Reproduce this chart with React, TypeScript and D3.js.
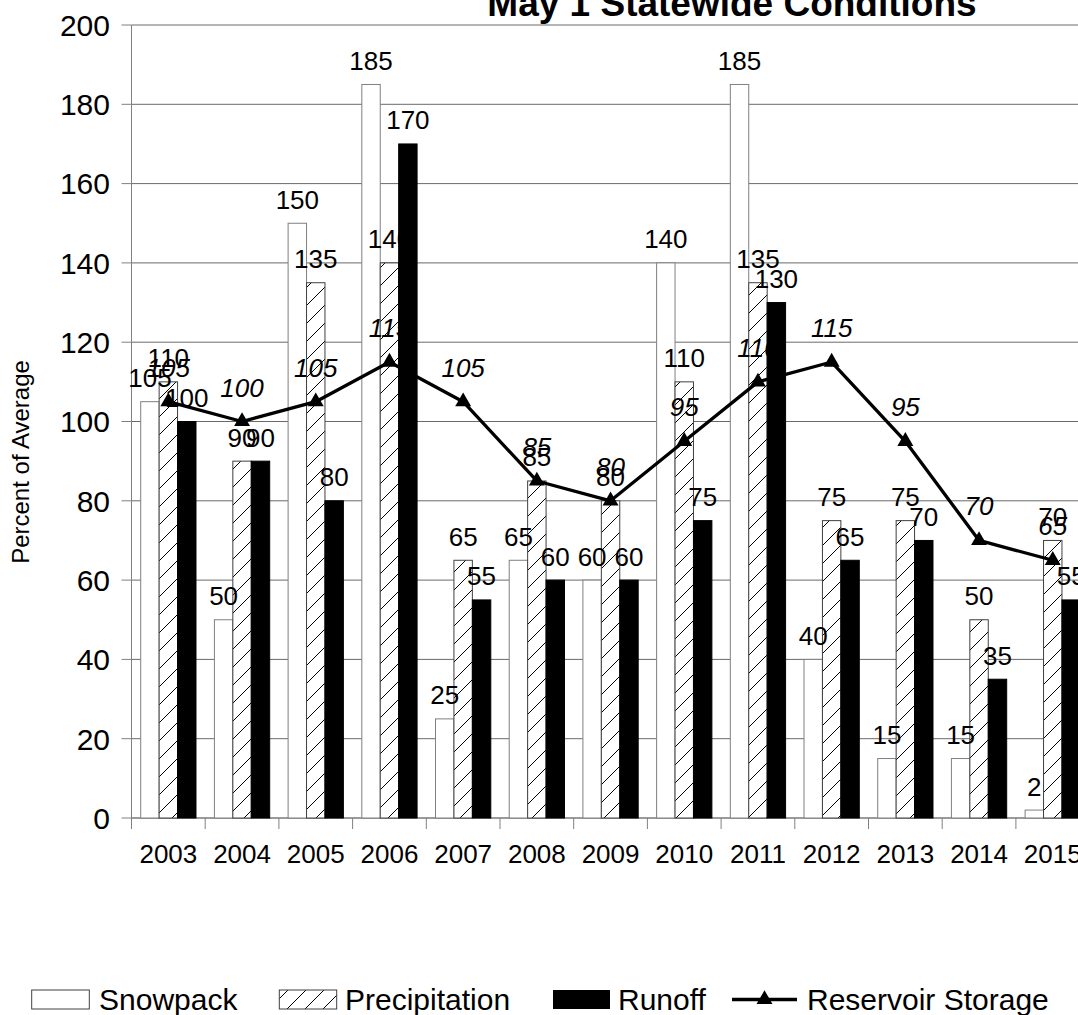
import React from "react";
import * as d3 from "d3";

const years = ["2003","2004","2005","2006","2007","2008","2009","2010","2011","2012","2013","2014","2015"];
const snowpack = [105, 50, 150, 185, 25, 65, 60, 140, 185, 40, 15, 15, 2];
const precipitation = [110, 90, 135, 140, 65, 85, 80, 110, 135, 75, 75, 50, 70];
const runoff = [100, 90, 80, 170, 55, 60, 60, 75, 130, 65, 70, 35, 55];
const reservoir = [105, 100, 105, 115, 105, 85, 80, 95, 110, 115, 95, 70, 65];
const yTicks = [0, 20, 40, 60, 80, 100, 120, 140, 160, 180, 200];
const seriesNames = ["Snowpack", "Precipitation", "Runoff", "Reservoir Storage"];
const title = "May 1 Statewide Conditions";
const yTitle = "Percent of Average";

const W = 1078;
const H = 1015;
const FONT = "'Liberation Sans', Arial, Helvetica, sans-serif";

export default function App() {
  const plotLeft = 131.5;
  const band = 73.7;
  const x0 = d3.scaleBand<string>().domain(years).range([plotLeft, plotLeft + band * years.length]).padding(0);
  const bw = x0.bandwidth();
  const x1 = d3.scaleBand<number>().domain([0, 1, 2]).range([bw * 0.125, bw * 0.875]).padding(0);
  const y = d3.scaleLinear().domain([0, 200]).range([818, 25]);
  const barW = x1.bandwidth();
  const center = (i: number) => (x0(years[i]) as number) + bw / 2;

  const lineGen = d3.line<number>().x((_, i) => center(i)).y((d) => y(d));
  const tri = d3.symbol().type(d3.symbolTriangle).size(110)();

  const barRect = (s: number, i: number, v: number, key: string) => {
    const bx = (x0(years[i]) as number) + (x1(s) as number);
    const common = { x: bx, y: y(v), width: barW, height: y(0) - y(v) };
    if (s === 0) return <rect key={key} {...common} fill="#fff" stroke="#808080" strokeWidth={1} />;
    if (s === 1) return <rect key={key} {...common} fill="url(#hatch)" stroke="#404040" strokeWidth={1} />;
    return <rect key={key} {...common} fill="#000" stroke="#000" strokeWidth={1} />;
  };
  const barLabel = (s: number, i: number, v: number, key: string) => {
    const bx = (x0(years[i]) as number) + (x1(s) as number) + barW / 2;
    return (
      <text key={key} x={bx} y={y(v) - 14.5} textAnchor="middle" fontSize={26} fill="#000">
        {v}
      </text>
    );
  };

  return (
    <svg width={W} height={H} style={{ position: "absolute", left: 0, top: 0, display: "block", background: "#fff" }} fontFamily={FONT}>
      <defs>
        <pattern id="hatch" patternUnits="userSpaceOnUse" width={18} height={18}>
          <rect width={18} height={18} fill="#fff" />
          <path d="M0,18 L18,0 M-4.5,4.5 L4.5,-4.5 M13.5,22.5 L22.5,13.5" stroke="#000" strokeWidth={1} />
        </pattern>
      </defs>
      <rect x={0} y={0} width={W} height={H} fill="#fff" />

      {/* title */}
      <text x={732} y={16} textAnchor="middle" fontSize={37} fontWeight="bold" fill="#000">
        {title}
      </text>

      {/* gridlines */}
      {yTicks.map((t) => (
        <line key={"g" + t} x1={plotLeft} x2={W} y1={y(t)} y2={y(t)} stroke="#6a6a6a" strokeWidth={1} />
      ))}

      {/* y axis */}
      <line x1={plotLeft} x2={plotLeft} y1={y(200)} y2={y(0)} stroke="#808080" strokeWidth={1} />
      {yTicks.map((t) => (
        <g key={"yt" + t}>
          <line x1={plotLeft - 10} x2={plotLeft} y1={y(t)} y2={y(t)} stroke="#808080" strokeWidth={1} />
          <text x={110} y={y(t)} dy="0.36em" textAnchor="end" fontSize={30} fill="#000">
            {t}
          </text>
        </g>
      ))}
      <text transform={`translate(29,462) rotate(-90)`} textAnchor="middle" fontSize={24} fill="#000">
        {yTitle}
      </text>

      {/* x axis */}
      <line x1={plotLeft} x2={W} y1={y(0)} y2={y(0)} stroke="#808080" strokeWidth={1} />
      {years.map((yr, i) => (
        <g key={"xt" + yr}>
          <line x1={x0(yr) as number} x2={x0(yr) as number} y1={y(0)} y2={y(0) + 11} stroke="#808080" strokeWidth={1} />
          <text x={center(i)} y={862.5} textAnchor="middle" fontSize={26} fill="#000">
            {yr}
          </text>
        </g>
      ))}

      {/* snowpack & precipitation bars */}
      {snowpack.map((v, i) => barRect(0, i, v, "s" + i))}
      {precipitation.map((v, i) => barRect(1, i, v, "p" + i))}
      {snowpack.map((v, i) => barLabel(0, i, v, "sl" + i))}
      {precipitation.map((v, i) => barLabel(1, i, v, "pl" + i))}

      {/* reservoir labels */}
      {reservoir.map((v, i) => (
        <text key={"rl" + i} x={center(i)} y={y(v) - 25} textAnchor="middle" fontSize={26} fontStyle="italic" fill="#000">
          {v}
        </text>
      ))}

      {/* runoff bars */}
      {runoff.map((v, i) => barRect(2, i, v, "r" + i))}
      {runoff.map((v, i) => barLabel(2, i, v, "rlb" + i))}

      {/* reservoir line */}
      <path d={lineGen(reservoir) as string} fill="none" stroke="#000" strokeWidth={3.3} strokeLinejoin="round" />
      {reservoir.map((v, i) => (
        <path key={"m" + i} d={tri as string} transform={`translate(${center(i)},${y(v)})`} fill="#000" />
      ))}

      {/* legend */}
      <g>
        <rect x={31.7} y={990} width={57.6} height={19} fill="#fff" stroke="#404040" strokeWidth={1} />
        <text x={99} y={1010} fontSize={30} fill="#000">{seriesNames[0]}</text>
        <rect x={279.3} y={990} width={57.4} height={19} fill="url(#hatch)" stroke="#404040" strokeWidth={1} />
        <text x={345} y={1010} fontSize={30} fill="#000">{seriesNames[1]}</text>
        <rect x={553} y={990} width={57} height={19} fill="#000" />
        <text x={618} y={1010} fontSize={30} fill="#000">{seriesNames[2]}</text>
        <line x1={732} x2={797} y1={999.5} y2={999.5} stroke="#000" strokeWidth={3.3} />
        <path d={tri as string} transform={`translate(764.5,999.5)`} fill="#000" />
        <text x={807} y={1010} fontSize={30} fill="#000">{seriesNames[3]}</text>
      </g>
    </svg>
  );
}
